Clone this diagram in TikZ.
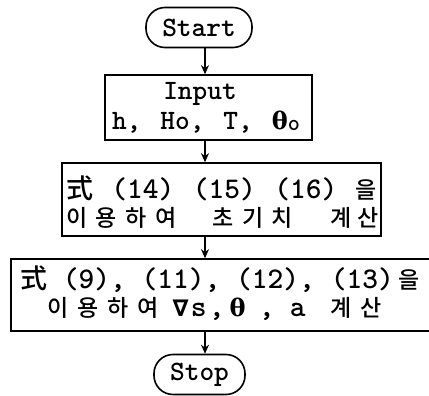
\documentclass[tikz,border=0pt]{standalone}
\usepackage{fontspec}
\newfontfamily\kr{Noto Sans CJK KR Medium}
\newfontfamily\gr{DejaVu Serif}
\newfontfamily\gs{DejaVu Sans}
\usetikzlibrary{arrows.meta}
\newcommand{\K}[1]{{\kr\mdseries\fontsize{23}{23}\selectfont #1}}
\newcommand{\Han}{{\kr\mdseries\fontsize{27}{27}\selectfont 式}}
\newcommand{\Th}{{\gr\bfseries\fontsize{24}{24}\selectfont θ}}
\newcommand{\Nb}{{\gs\bfseries\fontsize{23}{23}\selectfont ∇}}
\newcommand{\Pc}[2]{\makebox[0pt][l]{\hspace*{#1pt}\makebox[0pt][c]{#2}}}
\begin{document}
\begin{tikzpicture}[x=1pt,y=-1pt,
  box/.style={draw, line width=1.6pt, inner sep=0pt},
  term/.style={draw, line width=1.6pt, rounded corners=19pt, inner sep=0pt, font=\ttfamily\bfseries\fontsize{28}{28}\selectfont},
  txt/.style={inner sep=0pt, anchor=base, font=\ttfamily\bfseries\fontsize{30}{30}\selectfont},
  big/.style={txt, font=\ttfamily\bfseries\fontsize{28}{28}\selectfont},
  abs/.style={txt, anchor=base west},
  arr/.style={-{Stealth[length=9pt,width=8pt]}, line width=1.8pt}]
\useasboundingbox (0,0) rectangle (429,396);
\clip (0,0) rectangle (429,396);
\coordinate (ax) at (205,0);
% start
\node[term, minimum width=106pt, minimum height=40pt] (start) at (199,27.5) {Start};
% input
\node[box, minimum width=207pt, minimum height=65pt] (input) at (208.5,107.5) {};
\node[big] (in1) at (200,100) {Input};
\node[big] (in2) at (206,130) {\makebox[188pt]{h,\hfill Ho,\hfill T,\hfill \Th\raisebox{-1pt}{\fontsize{23}{23}\selectfont o}}};
% initial values
\node[box, minimum width=319pt, minimum height=73pt] (init) at (221.5,199.5) {};
\node[txt] (i1) at (221.5,198) {\makebox[311pt]{\Han\hfill(14)\hfill(15)\hfill(16)\hfill\K{을}}};
\node[abs] (i2) at (0,226) {\Pc{76}{\K{이}}\Pc{105}{\K{용}}\Pc{135}{\K{하}}\Pc{165}{\K{여}}\Pc{222}{\K{초}}\Pc{252}{\K{기}}\Pc{281}{\K{치}}\Pc{340}{\K{계}}\Pc{367}{\K{산}}};
% calculation
\node[box, minimum width=434pt, minimum height=72pt] (calc) at (228,295) {};
\node[txt] (c1) at (220,288) {\makebox[400pt]{\Han\hfill(9),\hfill(11),\hfill(12),\hfill(13)\,\K{을}}};
\node[abs] (c2) at (0,316) {\Pc{57}{\K{이}}\Pc{87}{\K{용}}\Pc{117}{\K{하}}\Pc{147}{\K{여}}\Pc{180}{\Nb}\Pc{198}{s}\Pc{216}{,}\Pc{237}{\Th}\Pc{266}{,}\Pc{297}{a}\Pc{340}{\K{계}}\Pc{370}{\K{산}}};
% stop
\node[term, minimum width=91pt, minimum height=40pt] (stop) at (199.5,374.5) {Stop};
\draw[arr] (start.south -| ax) -- (input.north -| ax);
\draw[arr] (input.south -| ax) -- (init.north -| ax);
\draw[arr] (init.south -| ax) -- (calc.north -| ax);
\draw[arr] (calc.south -| ax) -- (stop.north -| ax);
\end{tikzpicture}
\end{document}
